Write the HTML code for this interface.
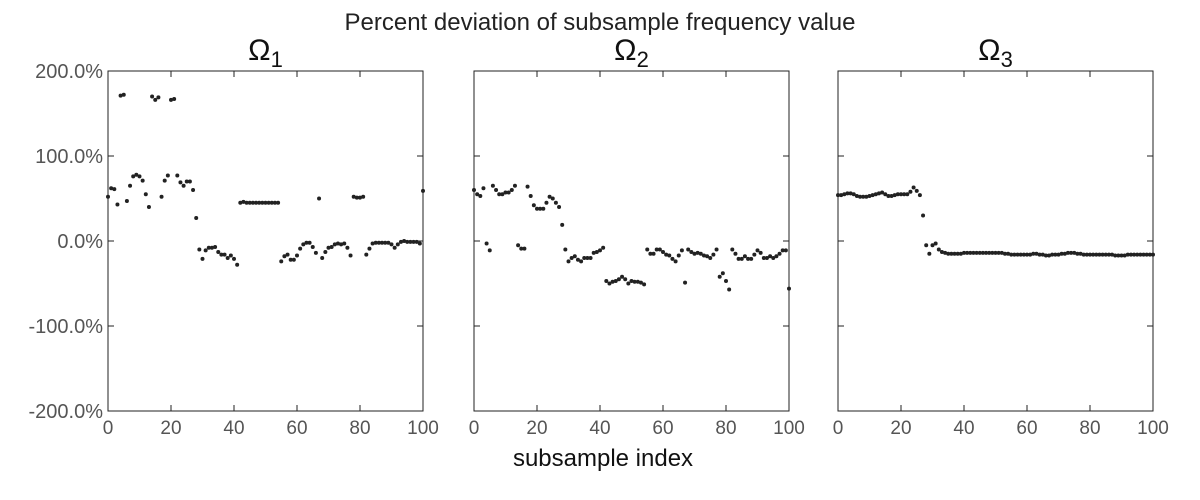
<!DOCTYPE html>
<html><head><meta charset="utf-8">
<style>
html,body{margin:0;padding:0;background:#fff;}
svg{display:block;}
text{font-family:"Liberation Sans",sans-serif;}
</style></head>
<body>
<svg id="chart" width="1200" height="500" viewBox="0 0 1200 500">
<text x="600" y="30" text-anchor="middle" font-size="24" fill="#222" font-weight="300">Percent deviation of subsample frequency value</text>
<text x="603" y="466" text-anchor="middle" font-size="24" fill="#111">subsample index</text>
<g id="panels"></g>
</svg>
<script>
const xTicks = [0,20,40,60,80,100];
const yTicks = [-200,-100,0,100,200];
const yTickLabels = ["-200.0%","-100.0%","0.0%","100.0%","200.0%"];
const panelTitles = ["Ω1","Ω2","Ω3"];
const omega1 = [52,62,61,43,171,172,47,65,76,78,76,71,55,40,170,166,169,52,71,77,166,167,77,69,65,70,70,60,27,-10,-21,-11,-8,-8,-7,-13,-16,-16,-20,-17,-21,-28,45,46,45,45,45,45,45,45,45,45,45,45,45,-24,-18,-16,-22,-22,-17,-9,-4,-2,-2,-7,-14,50,-20,-13,-8,-7,-4,-3,-4,-3,-8,-17,52,51,51,52,-16,-9,-3,-2,-2,-2,-2,-2,-4,-8,-4,-1,0,-1,-1,-1,-1,-3,59];
const omega2 = [60,55,53,62,-3,-11,65,60,55,55,57,57,60,65,-5,-9,-9,64,53,42,38,38,38,45,52,50,45,40,19,-10,-24,-20,-18,-22,-24,-20,-20,-20,-14,-13,-11,-8,-47,-50,-48,-47,-45,-42,-45,-50,-47,-48,-48,-49,-51,-10,-15,-15,-10,-10,-13,-16,-17,-21,-24,-17,-11,-49,-10,-13,-15,-14,-15,-17,-18,-20,-16,-10,-42,-38,-47,-57,-10,-15,-21,-21,-18,-21,-21,-16,-11,-14,-20,-20,-18,-20,-18,-15,-11,-11,-56];
const omega3 = [54,54,55,56,56,55,53,52,52,52,53,54,55,56,57,55,53,53,54,55,55,55,55,58,63,59,54,30,-5,-15,-5,-3,-10,-13,-14,-15,-15,-15,-15,-15,-14,-14,-14,-14,-14,-14,-14,-14,-14,-14,-14,-14,-14,-15,-15,-16,-16,-16,-16,-16,-16,-16,-15,-15,-16,-16,-17,-17,-16,-16,-16,-15,-15,-14,-14,-14,-15,-15,-16,-16,-16,-16,-16,-16,-16,-16,-16,-16,-17,-17,-17,-17,-16,-16,-16,-16,-16,-16,-16,-16,-16];
const series = [omega1, omega2, omega3];
const panelLeft = [108,474,838], panelW = 315, plotTop = 71, plotBottom = 411;
const NS = "http://www.w3.org/2000/svg";
const root = document.getElementById("panels");
function mk(tag, attrs, parent){const e=document.createElementNS(NS,tag);for(const k in attrs)e.setAttribute(k,attrs[k]);parent.appendChild(e);return e;}
function xs(p,v){return panelLeft[p]+v/100*panelW;}
function ys(v){return plotTop+(200-v)/400*(plotBottom-plotTop);}
series.forEach((data,p)=>{
  const g=mk("g",{},root);
  
  
  const L=panelLeft[p], R=L+panelW;
  const fr=mk("rect",{x:L,y:plotTop,width:panelW,height:plotBottom-plotTop,fill:"none",stroke:"#222","stroke-width":1},g);
  
  
  xTicks.forEach(t=>{
    const x=xs(p,t);
    const tk=mk("path",{d:`M${x},${plotBottom}v-6M${x},${plotTop}v6`,stroke:"#222","stroke-width":1},g);
    
    
    const lb=mk("text",{x:x,y:plotBottom+23,"text-anchor":"middle","font-size":19,fill:"#555"},g);
    lb.textContent=t;
    
    
  });
  yTicks.forEach((t,i)=>{
    const y=ys(t);
    const tk=mk("path",{d:`M${L},${y}h6M${R},${y}h-6`,stroke:"#222","stroke-width":1},g);
    
    
    if(p===0){
      const lb=mk("text",{x:L-5,y:y+7,"text-anchor":"end","font-size":20,fill:"#555"},g);
      lb.textContent=yTickLabels[i];
      
      
    }
  });
  const tt=mk("text",{x:(L+R)/2,y:60,"text-anchor":"middle","font-size":30,fill:"#111","font-family":"Liberation Serif, serif"},g);
  
  
  tt.textContent="Ω";
  const sub=mk("tspan",{dy:7,"font-size":22},tt);
  sub.textContent=panelTitles[p].slice(1);
  data.forEach((v,i)=>{
    const c=mk("circle",{cx:xs(p,i),cy:ys(v),r:2,fill:"#222"},g);
    
    
  });
});
</script>
</body></html>
